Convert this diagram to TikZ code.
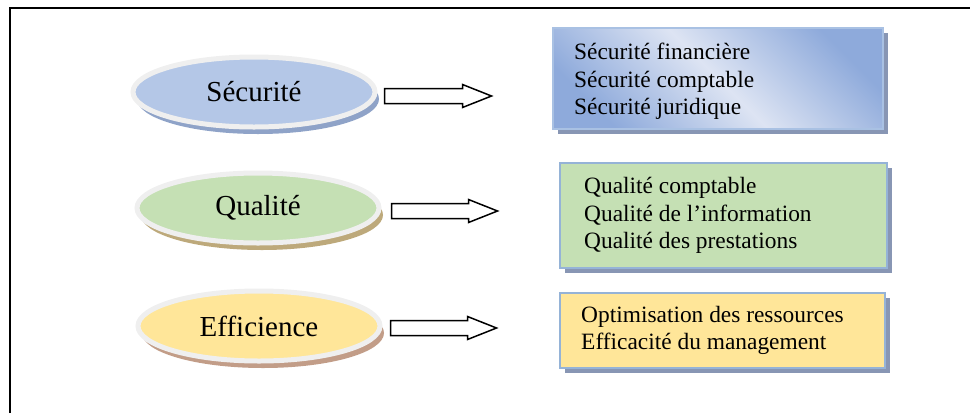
\documentclass[tikz,border=0pt]{standalone}
\usepackage{fontspec}
\setmainfont{Liberation Serif}
\usetikzlibrary{shapes.geometric,shadows}

\definecolor{ringgray}{HTML}{EFEFEF}
\definecolor{blueFill}{HTML}{B4C7E7}
\definecolor{blueShadow}{HTML}{8FA3C8}
\definecolor{greenFill}{HTML}{C5E0B4}
\definecolor{greenShadow}{HTML}{BDA97B}
\definecolor{yellowFill}{HTML}{FFE699}
\definecolor{yellowShadow}{HTML}{C29D88}
\definecolor{boxBorder}{HTML}{95B3D7}
\definecolor{boxBorderLight}{HTML}{A9C1E3}
\definecolor{boxShadow}{HTML}{8896B4}
\definecolor{gradDark}{HTML}{8EAADB}
\definecolor{gradLight}{HTML}{DDE4F3}

\tikzset{
  pillar/.style={ellipse, minimum width=242pt, minimum height=70pt, inner sep=0pt,
    draw=ringgray, line width=5pt, fill=#1Fill,
    font=\fontsize{29}{33}\selectfont},
  pillshadow/.style={drop shadow={shadow xshift=4pt, shadow yshift=-7pt,
    fill=#1Shadow, opacity=1}},
  blockarrow/.style={draw=black, fill=white, line width=1.5pt, line join=miter},
  listbox/.style={rectangle, draw=boxBorder, line width=2pt, inner sep=0pt,
    drop shadow={shadow xshift=5pt, shadow yshift=-5pt, fill=boxShadow, opacity=1}},
  listtext/.style={anchor=west, align=left, inner sep=0pt,
    font=\fontsize{23.4}{27.5}\selectfont}
}

% hollow block arrow: #1 tail point, #2 total length
\newcommand\hollowarrow[2]{%
  \draw[blockarrow] (#1) ++(0,-7.5) -- ++({#2-29},0) -- ++(0,-4)
    -- ++(29,11.5) -- ++(-29,11.5) -- ++(0,-4) -- ++({29-#2},0) -- cycle;}

\begin{document}
\begin{tikzpicture}[x=1pt, y=-1pt]
\useasboundingbox (0,0) rectangle (970,413);

% frame (top and left edges)
\draw[line width=2pt] (10,413) -- (10,8) -- (970,8);

% the three pillars
\node[pillar=blue,   pillshadow=blue]   (sec) at (254,92)  {Sécurité};
\node[pillar=green,  pillshadow=green]  (qua) at (258,208) {Qualité};
\node[pillar=yellow, pillshadow=yellow] (eff) at (259,326) {Efficience};

% lists of objectives
\node[listbox, draw=boxBorderLight, minimum width=330pt, minimum height=101pt,
      top color=gradDark, bottom color=gradDark, middle color=gradLight,
      shading angle=-45] (b1) at (718,78.5) {};
\node[listbox, fill=greenFill,  minimum width=327pt, minimum height=105pt] (b2) at (723.5,215.5) {};
\node[listbox, fill=yellowFill, minimum width=325pt, minimum height=75pt]  (b3) at (722.5,330.5) {};

\node[listtext] (t1) at ([xshift=22pt, yshift=-3pt]b1.west)
  {Sécurité financière\\Sécurité comptable\\Sécurité juridique};
\node[listtext] (t2) at ([xshift=25pt]b2.west)
  {Qualité comptable\\Qualité de l’information\\Qualité des prestations};
\node[listtext] (t3) at ([xshift=22pt]b3.west)
  {Optimisation des ressources\\Efficacité du management};

% block arrows from each pillar towards its list
\coordinate (a1) at ([xshift=7pt, yshift=-4pt]sec.east);
\coordinate (a2) at ([xshift=10pt, yshift=-3pt]qua.east);
\coordinate (a3) at ([xshift=8pt, yshift=-2pt]eff.east);
\hollowarrow{a1}{107}
\hollowarrow{a2}{106}
\hollowarrow{a3}{106}
\end{tikzpicture}
\end{document}
